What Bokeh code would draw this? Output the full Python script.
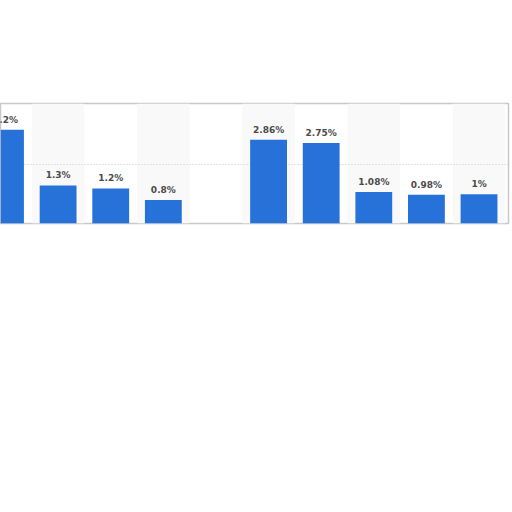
import numpy as np
from bokeh.plotting import figure
from bokeh.models import Range1d, FixedTicker, ColumnDataSource
from bokeh.embed import file_html
from bokeh.resources import INLINE
from bokeh.core.properties import value

# data (left-most category is partially cut off in the reference)
categories = ["A", "B", "C", "D", "E", "F", "G", "H", "I", "J"]
values = [3.2, 1.3, 1.2, 0.8, np.nan, 2.86, 2.75, 1.08, 0.98, 1.0]
labels = ["3.2%", "1.3%", "1.2%", "0.8%", "", "2.86%", "2.75%", "1.08%", "0.98%", "1%"]
y_max = 4.1
grid_ticks = [2]

xs = list(range(len(categories)))

p = figure(width=512, height=500, output_backend="svg", toolbar_location=None,
           x_range=Range1d(-0.095, 9.56), y_range=Range1d(0, y_max),
           min_border_left=0, min_border_right=4, min_border_top=103, min_border_bottom=277)
p.styles = {"position": "absolute", "left": "0px", "top": "0px"}
p.background_fill_color = "white"
p.border_fill_color = "white"
p.outline_line_color = "#c8c8c8"
p.outline_line_width = 1.5

# alternating column stripes
stripe_x = [x for x in xs if x % 2 == 1]
p.vbar(x=stripe_x, top=[y_max] * len(stripe_x), width=1.0, bottom=0,
       fill_color="#f9f9f9", line_color=None, level="image")

p.xaxis.visible = False
p.yaxis.visible = False
p.xgrid.visible = False
p.ygrid.ticker = FixedTicker(ticks=grid_ticks)
p.ygrid.grid_line_color = "#c8c8c8"
p.ygrid.grid_line_dash = "1 2"
p.ygrid.grid_line_width = 1

src = ColumnDataSource(dict(x=xs, top=values, label=labels))
p.vbar(x="x", top="top", width=0.7, source=src, fill_color="#2672d8", line_color=None)
p.text(x="x", y="top", text="label", source=src, text_align="center",
       text_baseline="alphabetic", y_offset=-10, text_font=value("DejaVu Sans"),
       text_font_size="9px", text_font_style="bold", text_color="#4a4a4a")

open("out.html", "w").write(file_html(p, INLINE))
